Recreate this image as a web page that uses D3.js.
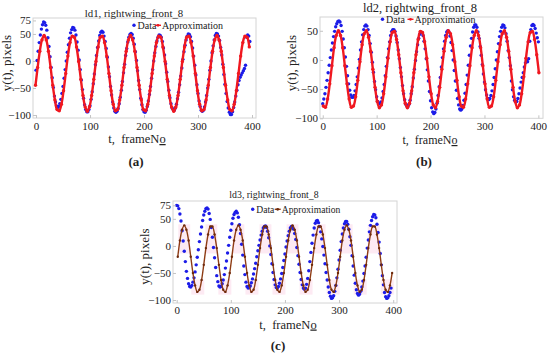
<!DOCTYPE html>
<html>
<head>
<meta charset="utf-8">
<script src="https://cdn.jsdelivr.net/npm/d3@7"></script>
<style>
  body { margin: 0; background: #fff; }
  text { font-family: "Liberation Serif", "Times New Roman", serif; fill: #222; }
</style>
</head>
<body>
<div id="chart"></div>
<script>
// ---- data ----
// frame numbers (categories)
var ld1Frames = d3.range(0, 397, 2);
var ld2Frames = d3.range(0, 401, 2);
var ld3Frames = d3.range(0, 397, 2);
var ld1ApproxFrames = d3.range(-1, 396, 4);
var ld2ApproxFrames = d3.range(1, 402, 4);
var ld3ApproxFrames = d3.range(2, 399, 4);

// measured y(t), pixels (blue dots)
var ld1Data = [-17,1,18,34,48,59,67,72,71,66,57,43,27,8,-12,-31,-49,-65,-76,-83,
  -86,-84,-79,-71,-60,-47,-32,-16,0,16,30,42,52,58,62,61,57,48,35,20,
  2,-16,-35,-53,-69,-81,-90,-94,-94,-90,-83,-71,-57,-42,-24,-7,10,25,37,47,
  53,55,53,46,36,23,7,-11,-29,-47,-63,-76,-87,-93,-95,-93,-88,-79,-67,-54,
  -38,-22,-6,10,23,35,44,49,51,49,42,31,17,1,-18,-36,-53,-69,-81,-90,
  -94,-95,-91,-84,-74,-62,-47,-32,-16,0,15,27,37,44,48,47,44,36,24,11,
  -5,-21,-38,-54,-68,-79,-87,-90,-91,-87,-80,-70,-58,-44,-28,-13,3,17,29,39,
  46,50,49,45,36,24,9,-8,-26,-44,-60,-74,-84,-91,-93,-91,-85,-76,-64,-50,
  -34,-17,0,15,28,39,47,51,50,46,38,25,11,-6,-25,-43,-60,-75,-87,-95,
  -99,-99,-94,-86,-76,-65,-54,-44,-36,-30,-26,-22,-18,-14,-8,44,48,46,36];

var ld2Data = [-75,-67,-58,-47,-35,-22,-9,4,17,29,40,49,57,62,66,67,65,59,49,36,
  21,5,-11,-27,-41,-52,-60,-64,-64,-61,-53,-42,-29,-14,1,17,31,43,52,58,
  60,58,52,42,28,13,-4,-21,-37,-51,-63,-71,-75,-75,-72,-65,-54,-42,-27,-11,
  4,19,31,42,49,52,52,49,41,30,17,2,-13,-29,-44,-58,-68,-76,-79,-80,
  -76,-69,-58,-46,-31,-16,-1,14,26,37,44,47,47,42,32,19,2,-17,-36,-54,
  -70,-82,-89,-92,-90,-84,-74,-61,-46,-30,-12,4,19,32,42,48,50,48,41,30,
  16,0,-18,-36,-52,-66,-77,-84,-86,-84,-78,-69,-57,-42,-26,-9,8,24,37,48,
  56,60,60,56,48,37,23,8,-8,-24,-38,-51,-60,-66,-68,-66,-61,-53,-42,-30,
  -15,0,14,28,40,49,56,60,59,55,45,32,16,4,-10,-36,-51,-63,-69,-72,
  -71,-66,-58,-48,-38,-30,-22,-12,-5,-1,-3,2,32,52,59,61,59,54,46,38,31];

var ld3Data = [75,74,69,59,46,28,9,-10,-29,-47,-60,-70,-75,-76,-73,-67,-59,-48,-35,-21,
  -7,8,22,35,47,57,64,69,70,68,60,49,34,16,-3,-22,-40,-55,-66,-74,
  -76,-75,-70,-63,-53,-41,-28,-13,1,16,29,41,51,58,62,64,61,53,39,23,
  3,-17,-37,-53,-67,-75,-78,-77,-74,-68,-61,-52,-42,-32,-20,-9,1,11,20,27,
  33,36,37,34,27,15,0,-16,-33,-49,-62,-72,-77,-78,-75,-69,-61,-51,-40,-27,
  -15,-2,9,19,27,33,36,35,31,23,12,-3,-18,-34,-49,-62,-72,-78,-80,-78,
  -71,-60,-46,-29,-12,5,20,33,42,46,47,43,36,26,13,-1,-17,-33,-49,-63,
  -76,-86,-93,-97,-96,-92,-84,-73,-59,-43,-26,-8,8,22,33,41,45,45,40,31,
  17,1,-18,-37,-54,-69,-81,-88,-91,-89,-84,-76,-65,-51,-37,-21,-4,11,26,38,
  47,54,58,57,52,40,25,7,-14,-35,-55,-72,-86,-94,-97,-96,-92,-86,-78];

// fitted approximation (red / brown curve)
var ld1Approx = [-45,-12,18,39,
  47,39,18,-12,-45,-72,-90,-92,-80,-55,-23,9,34,46,44,26,-1,-34,-64,-85,-93,-85,-64,-34,-1,26,44,46,34,9,-23,-55,-80,-92,-90,-72,-45,-12,18,39,
  47,39,18,-12,-45,-72,-90,-92,-80,-55,-23,9,34,46,44,26,-1,-34,-64,-85,-93,-85,-64,-34,-1,26,44,46,34,9,-23,-55,-80,-92,-90,-72,-45,-12,18,39,
  47,39,18,-12,-45,-72,-90,-92,-80,-55,-23,9,34,46,44,26];

var ld2Approx = [-79,-81,-67,-41,-10,21,42,
  50,42,21,-10,-41,-67,-81,-79,-63,-35,-3,26,45,50,39,15,-16,-47,-71,-82,-77,-58,-29,3,31,47,49,35,9,-22,
  -53,-74,-82,-74,-53,-22,9,35,49,47,31,3,-29,-58,-77,-82,-71,-47,-16,15,39,50,45,26,-3,-35,-63,-79,-81,-67,-41,-10,21,42,
  50,42,21,-10,-41,-67,-81,-79,-63,-35,-3,26,45,50,39,15,-16,-47,-71,-82,-77,-58,-29,3,31,47,49,35,9,-22];

var ld3Approx = [-20,10,30,
  38,30,10,-20,-50,-73,-85,-81,-63,-35,-4,21,36,36,21,-4,-35,-63,-81,-85,-73,-50,-20,10,30,
  38,30,10,-20,-50,-73,-85,-81,-63,-35,-4,21,36,36,21,-4,-35,-63,-81,-85,-73,-50,-20,10,30,
  38,30,10,-20,-50,-73,-85,-81,-63,-35,-4,21,36,36,21,-4,-35,-63,-81,-85,-73,-50,-20,10,30,
  38,30,10,-20,-50,-73,-85,-81,-63,-35,-4,21,36,36,21,-4,-35,-63,-81,-85,-73,-50];

// peaks / troughs of the ld3 fit, where the pale pink shading sits
var ld3Peaks = [14, 64, 114, 164, 214, 264, 314, 364];
var ld3Troughs = [39, 89, 139, 189, 239, 289, 339, 389];

// tick labels
var xTickValues = [0, 100, 200, 300, 400];
var yTicks75 = [75, 50, 0, -50, -100];
var yTicks50 = [50, 0, -50, -100];

var blue = "#1c1ce8";
var red = "#f01820";
var brown = "#8e3c14";

var svg = d3.select("#chart")
  .append("svg")
  .attr("width", 550)
  .attr("height", 356);

function zip(t, v) {
  var n = Math.min(t.length, v.length);
  return d3.range(n).map(function(i) { return [t[i], v[i]]; });
}

function drawPanel(p) {
  var x = d3.scaleLinear().domain(p.xDomain).range([p.left, p.right]);
  var y = d3.scaleLinear().domain(p.yDomain).range([p.bottom, p.top]);
  var g = svg.append("g");

  g.append("clipPath").attr("id", "clip-" + p.id)
    .append("rect")
    .attr("x", p.left).attr("y", p.top - 2)
    .attr("width", p.right - p.left).attr("height", p.bottom - p.top + 2);

  var plot = g.append("g").attr("clip-path", "url(#clip-" + p.id + ")");

  // pale pink shading (ld3 only)
  if (p.peaks) {
    plot.selectAll("rect.pk").data(p.peaks).enter().append("rect")
      .attr("x", function(d) { return x(d - 11); })
      .attr("width", function(d) { return x(d + 11) - x(d - 11); })
      .attr("y", y(40)).attr("height", y(-14) - y(40))
      .attr("fill", "#fdeaf3");
    plot.selectAll("rect.tr").data(p.troughs).enter().append("rect")
      .attr("x", function(d) { return x(d - 12); })
      .attr("width", function(d) { return x(d + 12) - x(d - 12); })
      .attr("y", y(-62)).attr("height", y(-90) - y(-62))
      .attr("fill", "#fdeaf3");
  }

  // frame
  g.append("rect")
    .attr("x", p.left).attr("y", p.top)
    .attr("width", p.right - p.left).attr("height", p.bottom - p.top)
    .attr("fill", "none").attr("stroke", "#d4d4d4");

  var xAxis = g.append("g")
    .attr("transform", "translate(0," + p.bottom + ")")
    .call(d3.axisBottom(x).tickValues(xTickValues).tickSizeInner(-3).tickSizeOuter(0).tickPadding(p.xPad));
  var yAxis = g.append("g")
    .attr("transform", "translate(" + p.left + ",0)")
    .call(d3.axisLeft(y).tickValues(p.yTicks).tickSizeInner(-3).tickSizeOuter(0).tickPadding(2)
      .tickFormat(function(d) { return d < 0 ? "\u2212" + Math.abs(d) : d; }));
  [xAxis, yAxis].forEach(function(a) {
    a.attr("font-family", null);
    a.select(".domain").remove();
    a.selectAll("line").attr("stroke", "#c4c4c4");
    a.selectAll("text").attr("font-size", 11).attr("fill", "#333");
  });

  var data = zip(p.dataT, p.data);
  var approx = zip(p.approxT, p.approx);

  plot.selectAll("circle.dat").data(data).enter().append("circle")
    .attr("cx", function(d) { return x(d[0]); })
    .attr("cy", function(d) { return y(d[1]); })
    .attr("r", 1.7)
    .attr("fill", blue);

  var line = d3.line()
    .x(function(d) { return x(d[0]); })
    .y(function(d) { return y(d[1]); })
    .curve(d3.curveCatmullRom);

  plot.append("path").datum(approx)
    .attr("d", line)
    .attr("fill", "none")
    .attr("stroke", p.approxColor)
    .attr("stroke-width", p.approxWidth);

  plot.selectAll("circle.apx").data(approx).enter().append("circle")
    .attr("cx", function(d) { return x(d[0]); })
    .attr("cy", function(d) { return y(d[1]); })
    .attr("r", p.approxR)
    .attr("fill", p.approxDot);

  // title
  g.append("text")
    .attr("x", p.titleX).attr("y", p.titleY)
    .attr("text-anchor", "middle")
    .attr("font-size", p.titleSize)
    .text(p.title);

  // legend
  var lg = g.append("g").attr("transform", "translate(" + p.legX + "," + p.legY + ")");
  lg.append("circle").attr("cx", 0).attr("cy", -3.2).attr("r", 1.7).attr("fill", blue);
  lg.append("text").attr("x", 3.5).attr("y", 0).attr("font-size", p.legSize).text("Data");
  lg.append("line").attr("x1", p.legGap).attr("x2", p.legGap + 6)
    .attr("y1", -3.2).attr("y2", -3.2)
    .attr("stroke", p.approxColor).attr("stroke-width", 1.4);
  lg.append("circle").attr("cx", p.legGap + 3).attr("cy", -3.2).attr("r", 1.4).attr("fill", p.approxDot);
  lg.append("text").attr("x", p.legGap + 7).attr("y", 0).attr("font-size", p.legSize).text("Approximation");

  // axis labels
  var xl = g.append("text")
    .attr("x", p.xLabX).attr("y", p.xLabY)
    .attr("text-anchor", "middle")
    .attr("font-size", p.labSize)
    .style("white-space", "pre");
  xl.append("tspan").text("t,  frameN");
  xl.append("tspan").attr("text-decoration", "underline").text("o");

  g.append("text")
    .attr("transform", "translate(" + p.yLabX + "," + p.yLabY + ") rotate(-90)")
    .attr("text-anchor", "middle")
    .attr("font-size", 13)
    .text("y(t), pixels");

  // caption
  g.append("text")
    .attr("x", p.capX).attr("y", p.capY)
    .attr("text-anchor", "middle")
    .attr("font-size", 13)
    .attr("font-weight", "bold")
    .text(p.caption);
}

drawPanel({
  id: "a", title: "ld1, rightwing_front_8", caption: "(a)",
  dataT: ld1Frames, data: ld1Data, approxT: ld1ApproxFrames, approx: ld1Approx,
  approxColor: red, approxDot: red, approxWidth: 2.4, approxR: 1.7,
  yTicks: yTicks75,
  left: 33, right: 256, top: 18, bottom: 118,
  xDomain: [-5.6, 407.4], yDomain: [-105.5, 79.5], xPad: 4,
  titleX: 134, titleY: 16.5, titleSize: 10.8,
  legX: 134, legY: 28.5, legSize: 10, legGap: 21,
  xLabX: 137, xLabY: 143, labSize: 12.5, yLabX: 10.5, yLabY: 63,
  capX: 136, capY: 166
});

drawPanel({
  id: "b", title: "ld2, rightwing_front_8", caption: "(b)",
  dataT: ld2Frames, data: ld2Data, approxT: ld2ApproxFrames, approx: ld2Approx,
  approxColor: red, approxDot: red, approxWidth: 2.4, approxR: 1.7,
  yTicks: yTicks50,
  left: 320, right: 543, top: 17, bottom: 118.3,
  xDomain: [-5.1, 408.6], yDomain: [-100, 73.6], xPad: 4,
  titleX: 420, titleY: 11.5, titleSize: 12.5,
  legX: 382.5, legY: 22.5, legSize: 10, legGap: 25,
  xLabX: 430, xLabY: 144, labSize: 12, yLabX: 296, yLabY: 63,
  capX: 424, capY: 166
});

drawPanel({
  id: "c", title: "ld3, rightwing_front_8", caption: "(c)",
  dataT: ld3Frames, data: ld3Data, approxT: ld3ApproxFrames, approx: ld3Approx,
  approxColor: brown, approxDot: "#6e2a0c", approxWidth: 1.4, approxR: 1.2,
  peaks: ld3Peaks, troughs: ld3Troughs,
  yTicks: yTicks75,
  left: 173, right: 397, top: 201, bottom: 303,
  xDomain: [-6.8, 407], yDomain: [-105.5, 83], xPad: 3.5,
  titleX: 274, titleY: 197.5, titleSize: 9.8,
  legX: 252.7, legY: 212.5, legSize: 9.6, legGap: 22,
  xLabX: 288, xLabY: 328.5, labSize: 12.5, yLabX: 149, yLabY: 256.5,
  capX: 278, capY: 350
});
</script>
</body>
</html>
